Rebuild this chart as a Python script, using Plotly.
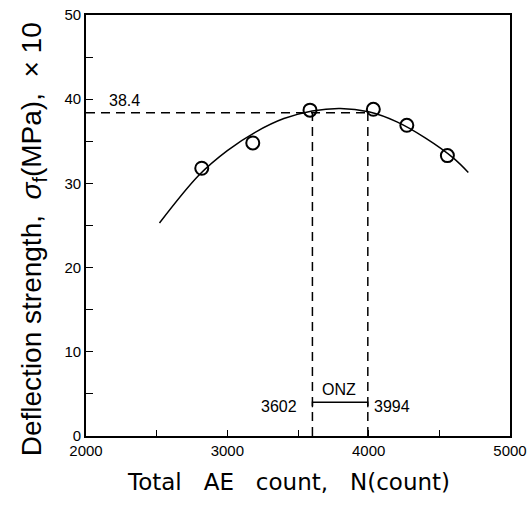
import plotly.graph_objects as go

# measured data points (total AE count, deflection strength x10 MPa)
ae_count = [2819, 3180, 3585, 4033, 4270, 4557]
strength = [31.8, 34.8, 38.7, 38.8, 36.9, 33.3]

# fitted curve
fit_x = [2520, 2800, 3000, 3200, 3400, 3600, 3800, 4000, 4200, 4400, 4600, 4705]
fit_y = [25.3, 31.0, 33.9, 36.1, 37.7, 38.6, 38.9, 38.5, 37.3, 35.4, 33.0, 31.3]

# optimum zone
peak_value = 38.4
onz_bounds = [3602, 3994]
onz_level = 4.0
onz_tick = 3.4

x_ticks = [2000, 3000, 4000, 5000]
y_ticks = [0, 10, 20, 30, 40, 50]

BLACK = "black"
fig = go.Figure()

dash = "9px,6px"
# horizontal dashed line at peak value
fig.add_trace(go.Scatter(x=[2000, onz_bounds[1]], y=[peak_value, peak_value], mode="lines",
                         line=dict(color=BLACK, width=1.5, dash=dash), hoverinfo="skip"))
# vertical dashed lines
for xv in onz_bounds:
    fig.add_trace(go.Scatter(x=[xv, xv], y=[0, peak_value], mode="lines",
                             line=dict(color=BLACK, width=1.5, dash=dash), hoverinfo="skip"))
# ONZ bracket
fig.add_trace(go.Scatter(x=[onz_bounds[0], onz_bounds[0], onz_bounds[1], onz_bounds[1]],
                         y=[onz_tick, onz_level, onz_level, onz_tick], mode="lines",
                         line=dict(color=BLACK, width=1.4), hoverinfo="skip"))
# fitted curve
fig.add_trace(go.Scatter(x=fit_x, y=fit_y, mode="lines", line=dict(color=BLACK, width=1.5, shape="spline"),
                         hoverinfo="skip"))
# data points
fig.add_trace(go.Scatter(x=ae_count, y=strength, mode="markers",
                         marker=dict(symbol="circle-open", size=13, color=BLACK, line=dict(width=2, color=BLACK))))

tick_font = dict(family="Liberation Sans, Arial", size=15, color=BLACK)
ann_font = dict(family="Liberation Sans, Arial", size=16, color=BLACK)
fig.add_annotation(x=2269, y=39.9, text=str(peak_value), showarrow=False, font=ann_font)
fig.add_annotation(x=3790, y=5.5, text="ONZ", showarrow=False, font=ann_font)
fig.add_annotation(x=3510, y=3.55, text=str(onz_bounds[0]), showarrow=False, font=ann_font, xanchor="right")
fig.add_annotation(x=4025, y=3.55, text=str(onz_bounds[1]), showarrow=False, font=ann_font, xanchor="left")

# axis titles as annotations (positioned to match reference)
fig.add_annotation(xref="paper", yref="paper", x=-0.122, y=0.468, xanchor="center", yanchor="middle",
                   text="Deflection\u00a0strength,\u00a0\u00a0<i>σ</i><sub>f</sub>(MPa),\u00a0\u00a0×\u00a010",
                   textangle=-90, showarrow=False,
                   font=dict(family="Liberation Sans, Arial", size=28, color=BLACK))
fig.add_annotation(xref="paper", yref="paper", x=0.478, y=-0.109, xanchor="center", yanchor="middle",
                   text="Total\u00a0\u00a0\u00a0AE\u00a0\u00a0\u00a0count,\u00a0\u00a0\u00a0N(count)",
                   showarrow=False,
                   font=dict(family="DejaVu Sans", size=23, color=BLACK))

fig.update_layout(
    width=527, height=505,
    margin=dict(l=86, r=17, t=15, b=69, autoexpand=False),
    plot_bgcolor="white", paper_bgcolor="white",
    showlegend=False,
    xaxis=dict(range=[2000, 5000], tickvals=x_ticks, ticktext=[str(v) for v in x_ticks],
               ticks="inside", ticklen=6, tickwidth=1.3, tickcolor=BLACK, automargin=False,
               minor=dict(dtick=500, ticks="inside", ticklen=6, tickwidth=1.3, tickcolor=BLACK, showgrid=False),
               showline=True, linecolor=BLACK, linewidth=1.6, mirror=True, showgrid=False, zeroline=False,
               tickfont=tick_font),
    yaxis=dict(range=[0, 50], tickvals=y_ticks, ticktext=[str(v) for v in y_ticks],
               ticks="inside", ticklen=7, tickwidth=1.3, tickcolor=BLACK, automargin=False,
               minor=dict(dtick=5, ticks="inside", ticklen=7, tickwidth=1.3, tickcolor=BLACK, showgrid=False),
               showline=True, linecolor=BLACK, linewidth=1.6, mirror=True, showgrid=False, zeroline=False,
               tickfont=tick_font),
)

fig.write_html("out.html")
